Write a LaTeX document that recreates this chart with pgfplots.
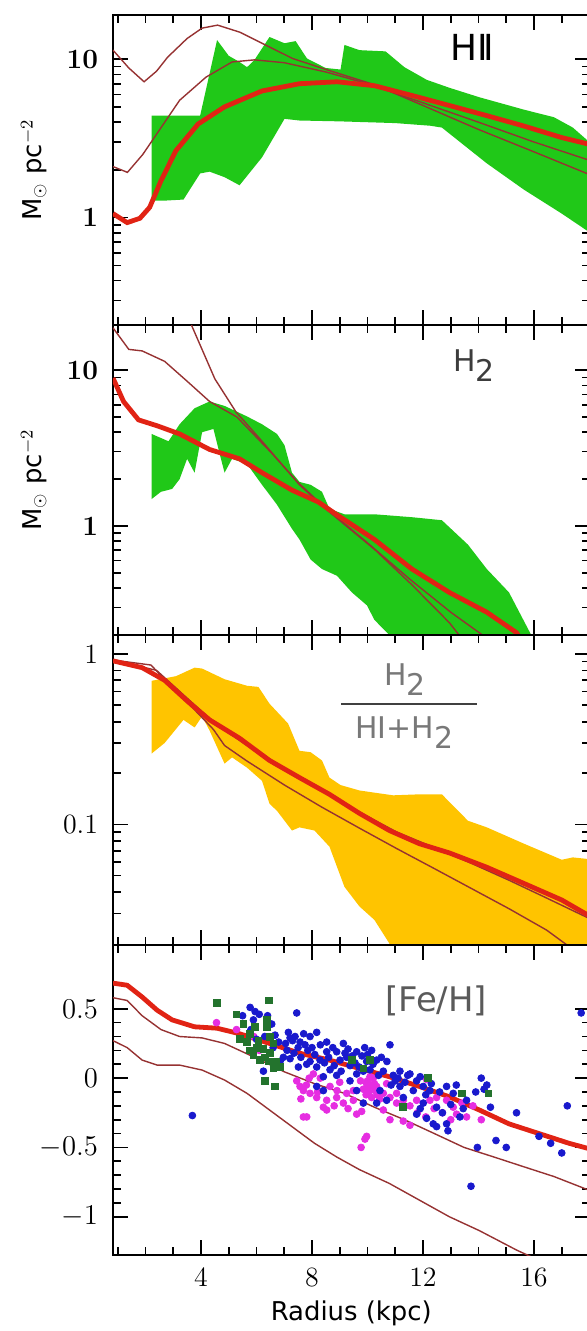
\documentclass[border=0pt]{standalone}
\usepackage{pgfplots}
\pgfplotsset{compat=1.18}
\usepackage{fontspec}
\newfontfamily\lab{DejaVu Sans}
\definecolor{hgreen}{RGB}{32,200,24}
\definecolor{hgold}{RGB}{255,196,0}
\definecolor{thickred}{RGB}{225,35,20}
\definecolor{thinred}{RGB}{150,50,50}
\definecolor{sblue}{RGB}{25,25,205}
\definecolor{smag}{RGB}{230,45,225}
\definecolor{sgreen}{RGB}{35,115,45}
\pgfplotsset{
  panel/.style={
    scale only axis, width=238.25bp, height=155bp,
    xmin=0.83, xmax=18, anchor=north west,
    xtick={4,8,12,16}, minor xtick={1,2,3,5,6,7,9,10,11,13,14,15,17},
    tick align=inside, xtick pos=both, ytick pos=both,
    major tick length=7.5bp, minor tick length=4bp,
    axis line style={line width=1bp},
    every tick/.style={black,line width=0.8bp},
    ticklabel style={font=\fontsize{14}{16}\selectfont},
    yticklabel style={xshift=-4bp},
    xticklabel style={yshift=-3bp},
    xticklabels={},
    ylabel style={at={(axis description cs:-0.166,0.5)},anchor=center,font=\lab\fontsize{13}{15}\selectfont},
  },
  thick line/.style={thickred, line width=2.4bp},
  thin line/.style={thinred, line width=0.7bp},
}
\begin{document}
\begin{tikzpicture}
\path[use as bounding box] (-56.5bp,7.5bp) rectangle (237bp,-658bp);

% panel 1: HII
\begin{semilogyaxis}[panel, at={(0,0)}, ymin=0.21, ymax=19,
  ytick={1,10}, yticklabels={1,10},
  yticklabel style={font=\fontsize{14}{16}\selectfont\bfseries},
  minor ytick={0.3,0.4,0.5,0.6,0.7,0.8,0.9,2,3,4,5,6,7,8,9},
  ylabel={M$_\odot$ pc$^{-2}$}]
\addplot[draw=none, fill=hgreen] coordinates {
 (2.22,4.4) (3.97,4.4) (4.58,13.2) (5.0,10.5) (5.39,9.6) (5.66,8.9) (5.93,9.9)
 (6.47,13.8) (7.01,12.6) (7.41,13.0) (7.82,10.1) (8.49,8.8) (9.03,8.6)
 (9.17,12.3) (9.71,11.4) (10.65,11.2) (11.33,8.9) (12.14,7.4) (12.95,6.6)
 (14.03,5.75) (15.64,4.8) (16.72,4.3) (17.4,3.7) (17.9,3.1) (18.2,2.9)
 (18.2,0.78) (17.9,0.83) (17.0,1.06) (15.64,1.5) (14.3,2.2) (12.68,3.7)
 (12.27,3.8) (11.0,3.95) (9.0,4.05) (7.55,4.1) (7.01,4.2) (6.2,2.4)
 (5.39,1.6) (4.85,1.8) (4.31,1.95) (3.97,1.9) (3.37,1.3) (2.69,1.28) (2.22,1.28)
} -- cycle;
\addplot[thin line] coordinates {
 (0.83,11.4) (1.4,8.8) (1.95,7.2) (2.4,8.4) (2.8,10.3) (3.5,13.5) (4.04,15.7)
 (4.6,16.4) (5.4,14.8) (6.2,12.6) (7.3,10.1) (8.6,8.5) (10.25,6.9) (12,5.1)
 (14,3.6) (16,2.6) (18,1.87)};
\addplot[thin line] coordinates {
 (0.83,2.1) (1.35,1.93) (1.9,2.5) (2.42,3.4) (3.23,5.5) (4.18,7.7) (5.12,9.6)
 (5.93,9.9) (7,9.5) (8.5,8.3) (10,7.0) (12,5.3) (14,4.0) (16,3.0) (18,2.3)};
\addplot[thick line] coordinates {
 (0.83,1.06) (1.34,0.93) (1.8,0.99) (2.15,1.16) (2.56,1.71) (3.1,2.65) (3.9,3.9)
 (4.85,5.0) (6.2,6.3) (7.55,7.0) (8.9,7.2) (10.25,6.8) (11.6,5.9) (12.95,5.1)
 (14.3,4.4) (15.6,3.8) (17.0,3.2) (18,2.9)};
\node[font=\lab\fontsize{18}{20}\selectfont] at (axis cs:13.77,11.9) {HI\kern-2.3bp I};
\end{semilogyaxis}

% panel 2: H2
\begin{semilogyaxis}[panel, at={(0,-155bp)}, ymin=0.2, ymax=19.5,
  ytick={1,10}, yticklabels={1,10},
  yticklabel style={font=\fontsize{14}{16}\selectfont\bfseries},
  minor ytick={0.3,0.4,0.5,0.6,0.7,0.8,0.9,2,3,4,5,6,7,8,9},
  ylabel={M$_\odot$ pc$^{-2}$}]
\addplot[draw=none, fill=hgreen] coordinates {
 (2.22,3.9) (2.83,3.5) (3.23,4.5) (3.77,5.7) (4.31,6.3) (4.85,5.9) (5.66,5.05)
 (6.2,4.5) (6.74,3.9) (7.01,3.3) (7.28,2.2) (7.55,1.92) (7.95,1.84) (8.36,1.66)
 (8.63,1.29) (9.17,1.19) (10.25,1.19) (11.6,1.14) (12.68,1.09) (13.62,0.76)
 (14.3,0.53) (15.1,0.375) (15.9,0.2) (16.0,0.15)
 (10.9,0.15) (10.79,0.2) (10.25,0.25) (9.98,0.31) (9.44,0.375) (8.9,0.48)
 (8.36,0.53) (7.95,0.61) (7.55,0.82) (7.28,0.96) (6.74,1.37) (6.2,1.84)
 (5.66,2.5) (5.12,2.7) (4.85,2.2) (4.72,2.7) (4.45,4.2) (4.04,4.0) (3.77,2.2)
 (3.5,2.7) (3.23,2.0) (2.96,1.73) (2.56,1.66) (2.22,1.49)
} -- cycle;
\addplot[thin line] coordinates {
 (0.83,18.7) (1.4,13.6) (1.88,13.3) (2.69,11.4) (3.5,8.5) (4.31,6.3) (5.3,5.0)
 (6.5,3.0) (7.5,1.9) (8.5,1.3) (10,0.78) (11.5,0.46) (13,0.28) (14.5,0.18)};
\addplot[thin line] coordinates {
 (3.4,24) (3.64,19.8) (4.5,8.8) (5.26,5.4) (6.2,3.5) (7.55,1.84) (8.49,1.29)
 (10.25,0.71) (11.6,0.42) (12.95,0.24) (13.5,0.18)};
\addplot[thick line] coordinates {
 (0.83,8.9) (1.21,6.3) (1.75,4.8) (2.42,4.4) (3.23,3.9) (4.31,3.1) (5.39,2.7)
 (6.2,2.2) (7.28,1.7) (8.22,1.43) (8.9,1.18) (10.25,0.82) (11.6,0.53)
 (12.95,0.375) (14.3,0.28) (15.37,0.207) (15.6,0.18)};
\node[anchor=base, text={rgb,255:red,60;green,60;blue,60}, font=\lab\fontsize{15}{17}\selectfont]
  at (axis cs:13.84,9.85) {H\raisebox{-5bp}{2}};
\end{semilogyaxis}

% panel 3: H2/(HI+H2)
\begin{semilogyaxis}[panel, at={(0,-310bp)}, ymin=0.0196, ymax=1.29,
  ytick={0.1,1}, yticklabels={0.1,1},
  minor ytick={0.03,0.04,0.05,0.06,0.07,0.08,0.09,0.2,0.3,0.4,0.5,0.6,0.7,0.8,0.9}]
\addplot[draw=none, fill=hgold] coordinates {
 (2.22,0.695) (3.1,0.74) (3.77,0.83) (4.04,0.82) (4.85,0.71) (5.66,0.65)
 (6.07,0.64) (6.47,0.51) (7.14,0.39) (7.55,0.27) (7.95,0.265) (8.36,0.237)
 (8.63,0.188) (9.03,0.17) (9.71,0.158) (10.92,0.148) (11.87,0.15) (12.68,0.15)
 (13.62,0.105) (14.3,0.096) (15.64,0.077) (17.0,0.062) (17.4,0.064) (18.2,0.062)
 (18.2,0.015) (10.9,0.015) (10.79,0.02) (10.25,0.0275) (9.71,0.033) (9.17,0.043)
 (8.63,0.074) (8.09,0.092) (7.55,0.096) (7.28,0.092) (6.74,0.12) (6.47,0.132)
 (6.2,0.18) (5.66,0.215) (5.12,0.247) (4.85,0.227) (4.31,0.355) (4.04,0.43)
 (3.77,0.37) (3.37,0.41) (2.69,0.3) (2.22,0.26)
} -- cycle;
\addplot[thin line] coordinates {
 (0.83,0.92) (2.2,0.86) (3.1,0.6) (3.77,0.47) (4.45,0.36) (4.85,0.29)
 (5.66,0.235) (7.01,0.17) (8.36,0.126) (9.71,0.095) (11.06,0.072) (12.41,0.055)
 (13.75,0.042) (15.1,0.032) (16.45,0.024) (17.5,0.018)};
\addplot[thin line] coordinates {
 (0.83,0.92) (2.4,0.8) (3.5,0.55) (4.6,0.38) (5.66,0.29) (7.01,0.215) (8.36,0.16)
 (9.71,0.118) (11.06,0.09) (12.41,0.073) (13.75,0.059) (15.1,0.047) (16.45,0.037)
 (18,0.028)};
\addplot[thick line] coordinates {
 (0.83,0.91) (1.88,0.83) (2.69,0.70) (3.5,0.53) (4.31,0.41) (5.39,0.32)
 (6.47,0.237) (7.55,0.188) (8.63,0.15) (9.71,0.116) (10.79,0.092) (11.87,0.077)
 (12.95,0.068) (14.3,0.056) (15.64,0.045) (17.0,0.036) (18,0.029)};
\node[anchor=base, text={rgb,255:red,120;green,120;blue,120}, font=\lab\fontsize{15}{17}\selectfont]
  at (axis cs:11.35,0.65) {H\raisebox{-5bp}{2}};
\draw[line width=0.9bp, black!75] (axis cs:9.05,0.51) -- (axis cs:13.95,0.51);
\node[anchor=base, text={rgb,255:red,120;green,120;blue,120}, font=\lab\fontsize{15}{17}\selectfont]
  at (axis cs:11.32,0.318) {HI+H\raisebox{-5bp}{2}};
\end{semilogyaxis}

% panel 4: [Fe/H]
\begin{axis}[panel, at={(0,-465bp)}, ymin=-1.276, ymax=0.96,
  ytick={-1,-0.5,0,0.5}, minor y tick num=4,
  xticklabels={4,8,12,16},
  xlabel={Radius (kpc)},
  xlabel style={at={(axis description cs:0.5,0)},anchor=center,yshift=-29bp,
    font=\lab\fontsize{13}{15}\selectfont}]
\addplot[thin line] coordinates {
 (0.83,0.58) (1.34,0.56) (1.88,0.45) (2.56,0.35) (3.23,0.30) (4.04,0.29)
 (4.85,0.25) (5.93,0.15) (7.01,0.045) (8.09,-0.04) (9.17,-0.11) (10.25,-0.21)
 (11.33,-0.30) (12.41,-0.40) (13.48,-0.50) (14.57,-0.57) (15.64,-0.64)
 (16.72,-0.71) (18,-0.81)};
\addplot[thin line] coordinates {
 (0.83,0.27) (1.34,0.22) (1.88,0.13) (2.42,0.094) (3.23,0.094) (4.04,0.058)
 (4.85,-0.014) (5.66,-0.11) (6.47,-0.23) (7.28,-0.35) (8.09,-0.47) (8.9,-0.57)
 (9.71,-0.66) (10.79,-0.76) (11.87,-0.88) (12.95,-1.0) (14.03,-1.1)
 (15.37,-1.24) (15.91,-1.29)};
\addplot[thick line] coordinates {
 (0.83,0.685) (1.34,0.67) (1.88,0.585) (2.42,0.49) (2.96,0.42) (3.77,0.37)
 (4.58,0.36) (5.39,0.32) (6.47,0.25) (7.55,0.18) (8.63,0.13) (9.71,0.07)
 (10.79,0.01) (11.87,-0.06) (12.95,-0.135) (14.03,-0.23) (15.1,-0.33)
 (16.18,-0.40) (17.26,-0.47) (18,-0.51)};
\addplot[only marks, mark=*, mark size=1.7bp, color=smag] coordinates {
 (4.56,0.40) (5.28,0.35) (7.45,-0.02) (7.57,-0.06) (7.69,-0.09) (8.05,0.03)
 (7.93,-0.11) (8.17,-0.14) (8.53,-0.16) (8.89,-0.14) (9.25,-0.11) (9.49,-0.16)
 (9.97,-0.04) (10.09,-0.06) (10.27,-0.09) (10.57,-0.11) (10.81,-0.14)
 (11.05,-0.18) (11.29,-0.16) (11.53,-0.20) (11.77,-0.16) (12.13,-0.01)
 (12.25,-0.16) (12.49,-0.14) (12.85,-0.16) (13.09,-0.21) (13.21,-0.26)
 (13.57,-0.28) (7.69,-0.28) (7.81,-0.28) (8.41,-0.21) (8.53,-0.23) (9.13,-0.18)
 (9.61,-0.26) (9.79,-0.24) (10.57,-0.23) (10.81,-0.30) (11.29,-0.31)
 (11.53,-0.34) (9.97,-0.42) (8.65,-0.06) (10.21,0.0) (9.49,-0.09) (11.05,-0.11)
 (10.09,0.01) (10.33,-0.06) (10.69,-0.04) (9.77,-0.5) (9.91,-0.44) (5.9,0.3)
 (6.1,0.2) (10.0,-0.02) (10.15,-0.05) (13.8,-0.2) (14.1,-0.3) (12.7,-0.25)
 (8.3,0.0) (9.0,-0.03) (7.9,0.0) (9.85,-0.08) (9.95,-0.12) (10.05,-0.1)
 (10.15,-0.14) (10.25,-0.04) (10.35,-0.12) (10.45,-0.15) (9.75,-0.02)
 (10.0,-0.07) (8.2,-0.1) (8.8,-0.2) (9.3,-0.22) (11.8,-0.25) (12.1,-0.28)
 (12.4,-0.22) (13.4,-0.18) (13.0,-0.3) (7.6,-0.15) (7.8,-0.05) (8.9,-0.09)};
\addplot[only marks, mark=*, mark size=1.7bp, color=sblue] coordinates {
 (5.77,0.51) (5.95,0.48) (7.45,0.47) (5.89,0.42) (6.55,0.39) (6.67,0.31)
 (7.21,0.29) (7.39,0.30) (7.57,0.26) (7.75,0.24) (7.93,0.30) (8.17,0.33)
 (8.53,0.26) (8.53,0.19) (9.13,0.25) (8.89,0.19) (9.19,0.18) (9.61,0.19)
 (10.15,0.20) (10.33,0.13) (10.81,0.24) (9.97,0.12) (10.09,0.06) (9.37,0.09)
 (9.01,0.13) (8.65,0.06) (8.41,0.01) (8.17,0.08) (7.81,0.10) (7.51,0.08)
 (7.21,0.14) (6.97,0.15) (6.85,0.12) (6.25,0.05) (8.17,-0.06) (8.41,-0.09)
 (8.89,0.02) (9.37,-0.02) (9.61,-0.09) (9.85,-0.18) (10.45,-0.09) (10.57,0.05)
 (10.93,0.02) (11.17,0.05) (11.53,0.03) (11.77,-0.02) (11.17,-0.06)
 (11.29,-0.14) (11.65,-0.09) (12.01,-0.06) (12.25,-0.09) (11.77,-0.26)
 (12.13,-0.29) (12.37,-0.33) (12.49,-0.35) (12.85,-0.33) (12.85,-0.06)
 (13.09,-0.11) (13.33,-0.28) (13.57,-0.16) (12.01,-0.18) (12.49,-0.21)
 (10.33,-0.18) (10.69,-0.16) (3.69,-0.27) (7.93,0.12) (8.29,0.13) (9.61,0.03)
 (9.85,0.05) (14.1,0.0) (14.3,-0.05) (14.43,-0.21) (15.37,-0.25) (13.96,-0.5)
 (14.63,-0.45) (15.0,-0.5) (13.73,-0.78) (16.18,-0.42) (16.6,-0.47) (17.0,-0.54)
 (17.2,-0.2) (17.7,0.47) (13.9,-0.1) (14.2,-0.08) (7.3,0.27) (7.5,0.22)
 (7.1,0.2) (6.0,0.28) (6.3,0.3) (6.6,0.22) (5.8,0.35) (10.5,0.15) (10.2,0.1)
 (11.0,-0.02) (7.05,0.25) (7.15,0.33) (7.35,0.18) (7.6,0.15) (7.7,0.32)
 (7.85,0.2) (8.0,0.22) (8.1,0.17) (8.3,0.24) (8.45,0.11) (8.6,0.15) (8.75,0.22)
 (8.8,0.09) (9.05,0.05) (9.25,0.15) (9.3,0.21) (9.45,0.16) (9.55,0.11)
 (9.7,0.08) (9.8,0.16) (9.9,0.22) (10.0,0.17) (10.4,0.02) (10.7,0.12)
 (10.85,-0.05) (11.1,0.0) (11.35,-0.03) (11.45,0.02) (11.9,0.01) (12.1,-0.12)
 (12.3,-0.04) (12.6,-0.1) (12.7,-0.25) (13.0,-0.19) (13.2,-0.05) (13.45,-0.22)
 (12.9,-0.38) (11.9,-0.22) (6.4,0.45) (6.8,0.26) (6.1,0.46) (5.5,0.45)};
\addplot[only marks, mark=square*, mark size=1.7bp, color=sgreen] coordinates {
 (4.56,0.54) (6.46,0.56) (5.28,0.46) (5.53,0.39) (5.95,0.37) (6.37,0.42)
 (6.37,0.37) (5.65,0.26) (5.77,0.20) (6.07,0.27) (6.25,0.21) (6.49,0.18)
 (6.13,0.13) (6.43,0.12) (6.61,0.07) (6.85,0.08) (5.89,0.17) (6.31,-0.02)
 (6.67,-0.06) (6.49,0.30) (9.43,0.13) (9.85,0.07) (10.09,0.13) (11.29,-0.21)
 (12.19,0.0) (13.39,-0.11) (5.77,0.32) (6.61,0.25) (14.36,-0.11) (6.0,0.22)
 (6.3,0.15) (6.7,0.12) (5.4,0.28)};
\node[text={rgb,255:red,90;green,90;blue,90}, font=\lab\fontsize{17}{19}\selectfont]
  at (axis cs:12.47,0.56) {[Fe/H]};
\end{axis}
\end{tikzpicture}
\end{document}
